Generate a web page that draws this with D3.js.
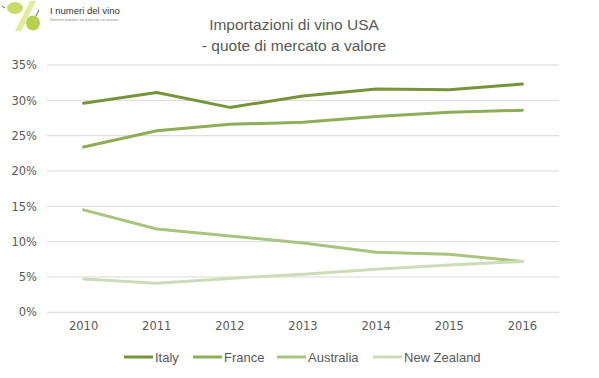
<!DOCTYPE html>
<html><head><meta charset="utf-8">
<script src="https://cdn.jsdelivr.net/npm/d3@7/dist/d3.min.js"></script>
<style>body{margin:0;background:#fff}svg{display:block}</style>
</head><body><svg id="c" width="599" height="378"></svg>
<script>
const years = ["2010","2011","2012","2013","2014","2015","2016"];
const seriesNames = ["Italy","France","Australia","New Zealand"];
const italy = [29.6,31.1,29.0,30.6,31.6,31.5,32.3];
const france = [23.4,25.7,26.6,26.9,27.7,28.3,28.6];
const australia = [14.5,11.8,10.8,9.8,8.5,8.2,7.2];
const newZealand = [4.7,4.1,4.8,5.4,6.1,6.7,7.2];
const yTicks = [0,5,10,15,20,25,30,35];
const colors = ["#77933c","#8fad58","#a9c47f","#cddcb8"];

const series = [italy,france,australia,newZealand];
const svg = d3.select("#c");
const x = d3.scaleBand().domain(years).range([47,559]);
const y = d3.scaleLinear().domain([0,35]).range([312.3,65]);
const font = "'Liberation Sans Narrow','Liberation Sans',Arial,sans-serif";

svg.append("g").selectAll("line").data(yTicks).join("line")
  .attr("x1",47).attr("x2",559)
  .attr("y1",d=>y(d)).attr("y2",d=>y(d))
  .attr("stroke","#d9d9d9").attr("stroke-width",1);

const yAxis = d3.axisLeft(y).tickValues(yTicks).tickFormat(d=>d+"%").tickSize(0).tickPadding(0);
const ga = svg.append("g").attr("transform","translate(37,0)").call(yAxis);
ga.select(".domain").remove();
ga.selectAll("text").attr("fill","#595959").style("font-family","'DejaVu Sans',Verdana,sans-serif").style("font-size","11.5px");

const xAxis = d3.axisBottom(x).tickSize(0).tickPadding(0);
const gx = svg.append("g").attr("transform","translate(0,322)").call(xAxis);
gx.select(".domain").remove();
gx.selectAll("text").attr("fill","#595959").style("font-family","'DejaVu Sans',Verdana,sans-serif").style("font-size","11.5px");

const line = d3.line().x((d,i)=>x(years[i])+x.bandwidth()/2).y(d=>y(d));
svg.append("g").selectAll("path").data(series).join("path")
  .attr("d",line).attr("fill","none")
  .attr("stroke",(d,i)=>colors[i]).attr("stroke-width",3)
  .attr("stroke-linejoin","round").attr("stroke-linecap","round");

const t = svg.append("text").attr("text-anchor","middle").attr("fill","#595959")
  .style("font-family",font).style("font-size","15.5px");
t.append("tspan").attr("x",294).attr("y",30).text("Importazioni di vino USA");
t.append("tspan").attr("x",294).attr("y",51).text("- quote di mercato a valore");

const legX = [124,193,277,373];
const lg = svg.append("g").selectAll("g").data(seriesNames).join("g")
  .attr("transform",(d,i)=>`translate(${legX[i]},357)`);
lg.append("line").attr("x1",0).attr("x2",29).attr("y1",0).attr("y2",0)
  .attr("stroke",(d,i)=>colors[i]).attr("stroke-width",3);
lg.append("text").attr("x",31).attr("y",4.5).attr("fill","#595959")
  .style("font-family",font).style("font-size","13px").text(d=>d);

const logo = svg.append("g");
logo.append("polygon").attr("points","30,1 36,1 21,31 15,31").attr("fill","#e2ec9c");
logo.append("ellipse").attr("cx",15).attr("cy",8).attr("rx",8).attr("ry",6).attr("fill","#c9dc6a");
logo.append("ellipse").attr("cx",33).attr("cy",23).attr("rx",7).attr("ry",7.5).attr("fill","#b8d050");
logo.append("line").attr("x1",36).attr("y1",16).attr("x2",39).attr("y2",10).attr("stroke","#7a5a3a").attr("stroke-width",1);
logo.append("line").attr("x1",5).attr("y1",8).attr("x2",2).attr("y2",6).attr("stroke","#7a5a3a").attr("stroke-width",1);
logo.append("text").attr("x",50).attr("y",14).attr("fill","#333")
  .style("font-family",font).style("font-size","9.5px").text("I numeri del vino");
logo.append("text").attr("x",50).attr("y",21).attr("fill","#888")
  .style("font-family",font).style("font-size","3px").text("Statistiche produttive, dati di mercato e di consumo.");
</script></body></html>
